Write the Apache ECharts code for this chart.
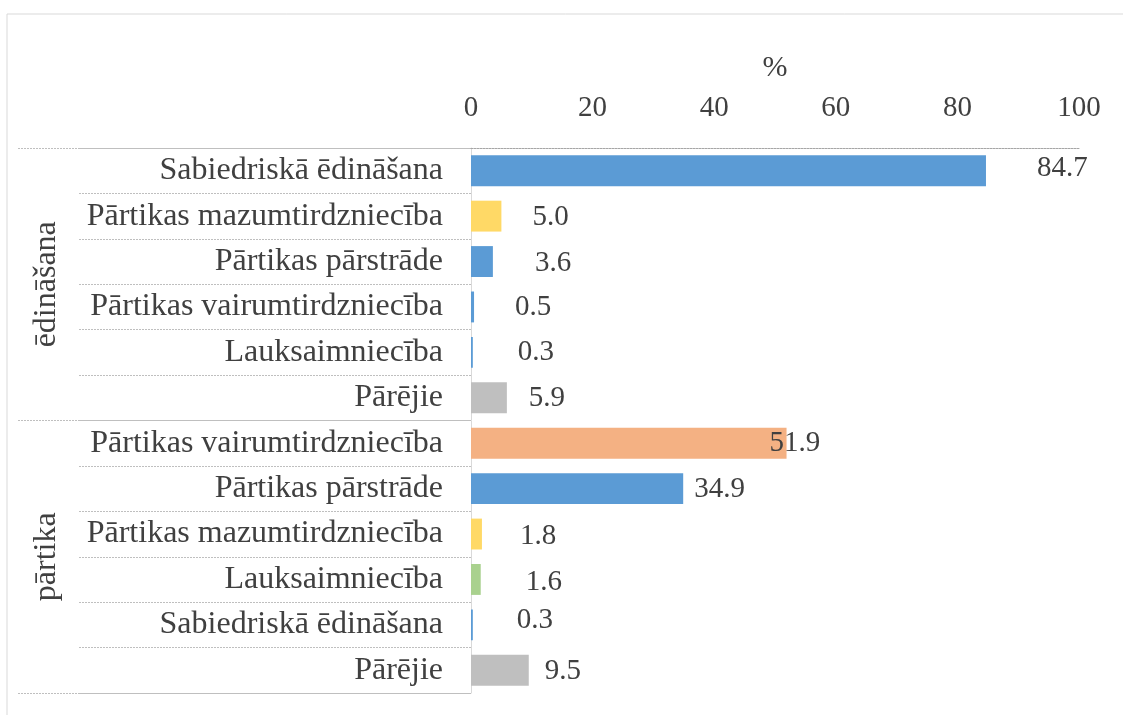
<!DOCTYPE html>
<html>
<head>
    <meta charset="utf-8">
    <title>Nozares</title>
    <script src="https://cdn.jsdelivr.net/npm/echarts@6/dist/echarts.min.js"></script>
    <style>
        html, body {
            margin: 0;
            width: 100%;
            height: 100%;
            background: #fff;
        }
        #main {
            width: 1123px;
            height: 715px;
        }
    </style>
</head>
<body>
<div id="main"></div>

<script type="text/javascript">
    // dati
    var groups = ['ēdināšana', 'pārtika'];
    var categories = [
        'Sabiedriskā ēdināšana',
        'Pārtikas mazumtirdzniecība',
        'Pārtikas pārstrāde',
        'Pārtikas vairumtirdzniecība',
        'Lauksaimniecība',
        'Pārējie',
        'Pārtikas vairumtirdzniecība',
        'Pārtikas pārstrāde',
        'Pārtikas mazumtirdzniecība',
        'Lauksaimniecība',
        'Sabiedriskā ēdināšana',
        'Pārējie'
    ];
    var values = [84.7, 5.0, 3.6, 0.5, 0.3, 5.9, 51.9, 34.9, 1.8, 1.6, 0.3, 9.5];
    var axisMin = 0, axisMax = 100, axisStep = 20;

    // krāsas un etiķešu nobīdes (tikai izskatam)
    var BLUE = '#5B9BD5', YELLOW = '#FFD966', ORANGE = '#F4B183', GREEN = '#A9D18E', GREY = '#BFBFBF';
    var barColors = [BLUE, YELLOW, BLUE, BLUE, BLUE, GREY, ORANGE, BLUE, YELLOW, GREEN, BLUE, GREY];
    var labelDx = [51, 31, 42, 41, 45, 22, -17, 11, 38, 45, 44, 16];
    var labelDy = [-2, 1, 2, 0, 0, 1, 0, 1, 2, 3, -4, 1];

    var FONT = 'Liberation Serif';
    var TXT = '#404040';
    var LINE = '#BFBFBF';

    var idx = categories.map(function (c, i) { return String(i); });

    var myChart = echarts.init(document.getElementById('main'));

    var option = {
        animation: false,
        textStyle: { fontFamily: FONT },
        graphic: [{
            type: 'rect',
            shape: { x: 7, y: 14, width: 1300, height: 900 },
            style: { fill: 'none', stroke: '#D9D9D9', lineWidth: 1 },
            silent: true
        }],
        grid: [
            { left: 471, top: 148, width: 608, height: 545 },
            { left: 79, top: 148, width: 392, height: 545 },
            { left: 18, top: 148, width: 453, height: 545 }
        ],
        xAxis: [
            {
                gridIndex: 0,
                type: 'value',
                position: 'top',
                min: axisMin,
                max: axisMax,
                interval: axisStep,
                name: '%',
                nameLocation: 'middle',
                nameGap: 65,
                nameTextStyle: { fontFamily: FONT, fontSize: 30, color: TXT },
                axisLine: { show: true, lineStyle: { color: '#A6A6A6', type: [2, 1] } },
                axisTick: { show: false },
                splitLine: { show: false },
                axisLabel: { fontFamily: FONT, fontSize: 29, color: TXT, margin: 25 }
            },
            { gridIndex: 1, type: 'value', show: false },
            { gridIndex: 2, type: 'value', show: false }
        ],
        yAxis: [
            {
                gridIndex: 0,
                type: 'category',
                data: idx,
                inverse: true,
                axisLine: { show: true, lineStyle: { color: '#D9D9D9' } },
                axisTick: { show: false },
                axisLabel: {
                    fontFamily: FONT, fontSize: 32, color: TXT, margin: 28,
                    formatter: function (v) { return categories[+v]; }
                }
            },
            {
                gridIndex: 1,
                type: 'category',
                data: idx,
                inverse: true,
                axisLine: { show: false },
                axisTick: { show: false },
                axisLabel: { show: false },
                splitLine: { show: true, lineStyle: { color: LINE, type: [2, 1] } }
            },
            {
                gridIndex: 2,
                type: 'category',
                data: groups,
                inverse: true,
                axisLine: { show: false },
                axisTick: { show: false },
                axisLabel: {
                    inside: true,
                    rotate: 90,
                    margin: 13,
                    fontFamily: FONT, fontSize: 32, color: TXT
                },
                splitLine: { show: true, lineStyle: { color: LINE, type: [2, 1] } }
            }
        ],
        series: [{
            type: 'bar',
            xAxisIndex: 0,
            yAxisIndex: 0,
            barCategoryGap: '32%',
            data: values.map(function (v, i) {
                return {
                    value: v,
                    itemStyle: { color: barColors[i] },
                    label: { offset: [labelDx[i], labelDy[i]] }
                };
            }),
            label: {
                show: true,
                position: 'right',
                distance: 0,
                fontFamily: FONT,
                fontSize: 29,
                color: TXT,
                formatter: function (p) { return p.value.toFixed(1); }
            }
        }]
    };

    myChart.setOption(option);
</script>
</body>
</html>
